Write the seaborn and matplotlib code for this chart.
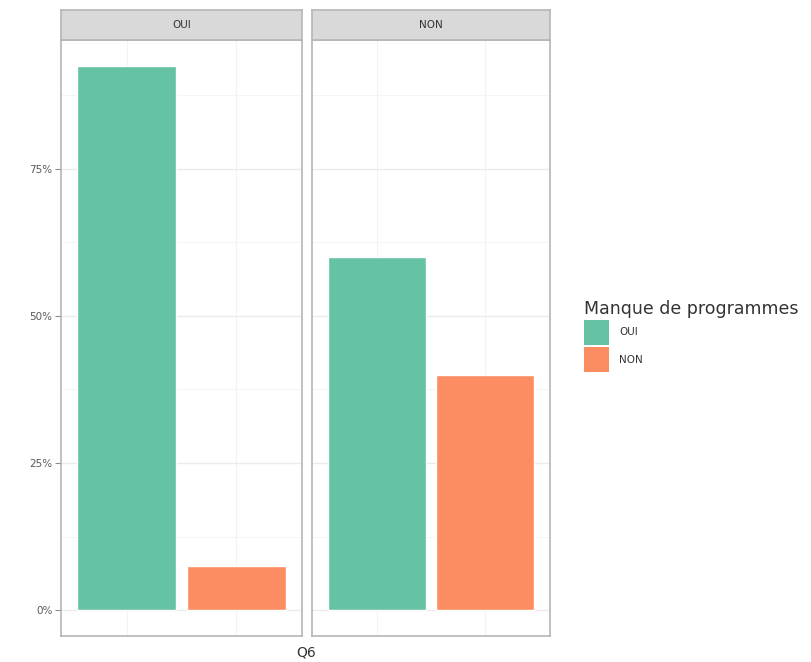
import matplotlib
matplotlib.use("Agg")
import matplotlib.pyplot as plt
import seaborn as sns
import pandas as pd
from matplotlib.patches import Patch
from matplotlib.ticker import FixedLocator

facets = ["OUI", "NON"]
categories = ["OUI", "NON"]
pct_oui = [0.925, 0.075]
pct_non = [0.60, 0.40]
yticks = [0, 0.25, 0.50, 0.75]
ytick_labels = ["0%", "25%", "50%", "75%"]
palette = {"OUI": "#66C2A5", "NON": "#FC8D62"}

df = pd.DataFrame({
    "facet": [facets[0]] * 2 + [facets[1]] * 2,
    "cat": categories * 2,
    "pct": pct_oui + pct_non,
})

sns.set_style("white")
plt.rcParams["font.family"] = ["DejaVu Sans"]

W, H = 811, 662
fig = plt.figure(figsize=(W / 100, H / 100), dpi=100)

def fx(x):
    return x / W

def fy(y):
    return 1 - y / H

panels = [(61, 302), (312, 550)]
top, bottom = 40, 636
border = "#B5B5B5"

for i, (f, (l, r)) in enumerate(zip(facets, panels)):
    ax = fig.add_axes([fx(l), fy(bottom), fx(r) - fx(l), fy(top) - fy(bottom)])
    sub = df[df["facet"] == f]
    sns.barplot(data=sub, x="cat", y="pct", hue="cat", order=categories,
                hue_order=categories, palette=palette, dodge=False,
                width=0.9, legend=False, ax=ax, saturation=1)
    ax.set_xlim(-0.6, 1.6)
    ax.set_ylim(-0.044, 0.969)
    ax.set_yticks(yticks)
    ax.yaxis.set_minor_locator(FixedLocator([0.125, 0.375, 0.625, 0.875]))
    ax.grid(True, which="major", axis="y", color="#EBEBEB", linewidth=1.0)
    ax.grid(True, which="minor", axis="y", color="#F3F3F3", linewidth=0.6)
    ax.grid(True, which="major", axis="x", color="#F3F3F3", linewidth=0.8)
    ax.set_axisbelow(True)
    ax.set_xlabel("")
    ax.set_ylabel("")
    ax.set_xticks([0, 1])
    ax.set_xticklabels([])
    ax.tick_params(axis="x", length=0)
    if i == 0:
        ax.set_yticklabels(ytick_labels, fontsize=7.5, color="#5A5A5A")
        ax.tick_params(axis="y", which="major", length=4, width=0.8,
                       color="#8A8A8A", left=True, pad=2)
    else:
        ax.set_yticklabels([])
        ax.tick_params(axis="y", length=0)
    ax.tick_params(axis="y", which="minor", length=0)
    for s in ax.spines.values():
        s.set_color(border)
        s.set_linewidth(1.2)
    # strip
    sax = fig.add_axes([fx(l), fy(top), fx(r) - fx(l), fy(10) - fy(top)])
    sax.set_facecolor("#D9D9D9")
    sax.set_xticks([])
    sax.set_yticks([])
    for s in sax.spines.values():
        s.set_color(border)
        s.set_linewidth(1.2)
    sax.text(0.5, 0.5, f, ha="center", va="center", fontsize=7.5,
             color="#333333", transform=sax.transAxes)

fig.text(fx(306), fy(652), "Q6", ha="center", va="center", fontsize=10,
         color="#333333")

handles = [Patch(facecolor=palette[c], edgecolor="none", label=c) for c in categories]
leg = fig.legend(handles=handles, title="Manque de programmes",
                 loc="upper left", bbox_to_anchor=(fx(582), fy(298)),
                 frameon=False, fontsize=7.5, title_fontsize=12.5,
                 handlelength=2.4, handleheight=3.4, handletextpad=1.0,
                 labelspacing=0.15, borderaxespad=0, borderpad=0.2)
leg._legend_box.align = "left"
leg.get_title().set_color("#333333")
for t in leg.get_texts():
    t.set_color("#333333")

fig.savefig("out.png", dpi=100, facecolor="white")
